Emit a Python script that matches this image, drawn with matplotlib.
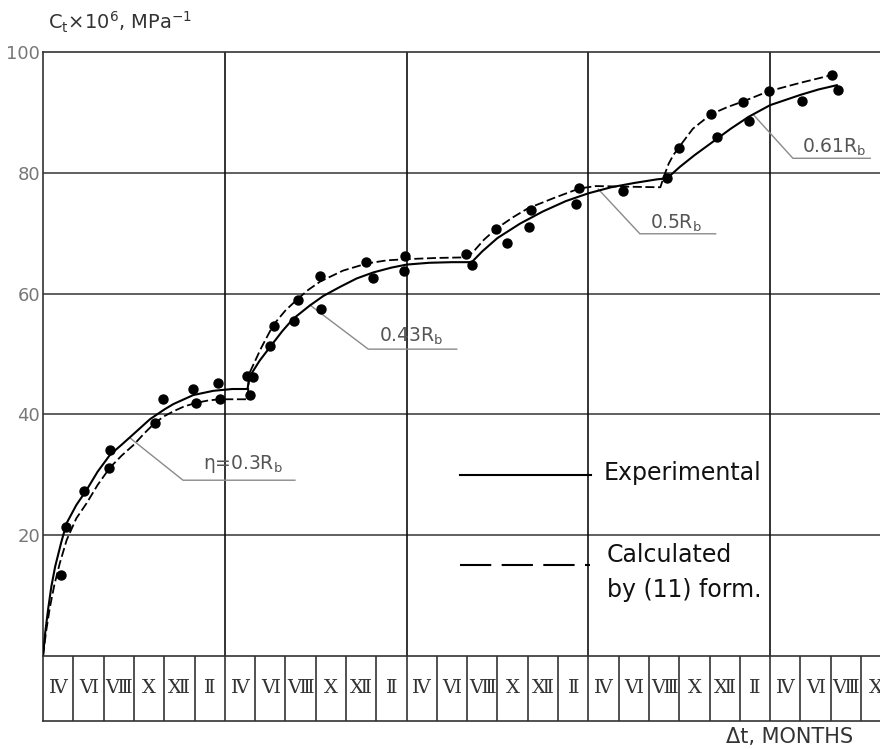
import matplotlib
matplotlib.use("Agg")
import matplotlib.pyplot as plt

# experimental curve (solid), months from start / Ct*1e6
exp_m = [0, 0.15, 0.35, 0.55, 0.8, 1.2, 1.56, 2.2, 2.88, 3.6, 4.42, 5.2, 6.0, 7.06, 8.0, 8.6,
         9.92, 11.24, 12.5, 13.5,
         13.62, 14.3, 15.0, 15.8, 16.5, 17.6, 18.5, 19.6, 20.7, 21.8, 23.0, 24.0, 25.5,
         27.0, 28.3,
         29.0, 30.0, 31.5, 33.0, 34.5, 36.0, 37.5, 39.0, 40.5, 41.2,
         42.05, 43.0, 44.2, 45.4, 46.6, 48.0, 50.0, 51.2, 52.4]
exp_v = [0, 4.0, 8.0, 11.5, 14.8, 18.8, 22.0, 25.0, 27.5, 30.5, 33.3, 35.0, 36.8, 39.2, 40.8, 41.7,
         43.2, 43.9, 44.2, 44.2,
         46.2, 48.9, 51.2, 53.8, 55.8, 58.0, 59.6, 61.1, 62.5, 63.5, 64.3, 64.8, 65.1,
         65.2, 65.2,
         67.0, 69.2, 71.6, 73.6, 75.3, 76.6, 77.6, 78.3, 78.9, 79.1,
         81.0, 82.9, 85.1, 87.3, 89.3, 91.2, 92.9, 93.8, 94.5]

# calculated by formula (11), dashed
calc_m = [0, 0.2, 0.45, 0.75, 1.1, 1.56, 2.2, 2.88, 3.6, 4.42, 5.2, 5.96, 6.7, 7.39, 8.0, 8.6,
          9.3, 10.1, 10.9, 11.66, 13.5,
          13.62, 14.4, 15.2, 16.0, 16.85, 17.5, 18.3, 19.8, 21.4, 22.7, 24.0, 26.0, 28.0,
          28.5, 29.1, 29.9, 31.0, 32.0, 33.7, 35.4, 36.5, 38.5, 40.75,
          41.0, 41.3, 41.6, 42.0, 42.9, 44.1, 45.2, 46.2, 47.9, 50.0, 52.1]
calc_v = [0, 4.0, 8.0, 11.8, 15.3, 19.2, 22.8, 25.3, 28.3, 31.2, 33.2, 34.9, 36.9, 38.6, 39.7, 40.5,
          41.3, 41.9, 42.3, 42.5, 42.5,
          46.8, 51.0, 54.8, 57.2, 59.2, 60.6, 62.0, 63.8, 65.0, 65.5, 65.7, 65.9, 66.0,
          67.2, 68.9, 70.7, 72.6, 74.1, 75.8, 77.4, 77.8, 77.7, 77.6,
          79.5, 81.5, 82.9, 84.3, 87.3, 89.7, 90.9, 91.8, 93.5, 94.9, 96.2]

# measured points
pts_m = [1.19, 1.52, 2.73, 4.45, 4.38, 7.39, 7.92, 9.88, 10.1, 11.57, 11.66, 13.47, 13.84,
         13.66, 15.0, 15.25, 16.57, 16.85, 18.35, 18.3, 21.3, 21.8, 23.9, 23.8, 27.9, 28.3,
         29.9, 30.6, 32.2, 32.1, 35.4, 35.2, 38.3, 41.2, 42.0, 44.5, 44.1, 46.6, 46.2, 47.9,
         50.1, 52.1, 52.5]
pts_v = [13.4, 21.4, 27.3, 34.1, 31.2, 38.6, 42.5, 44.2, 41.9, 45.2, 42.5, 46.4, 46.2,
         43.2, 51.3, 54.7, 55.4, 58.9, 57.5, 62.9, 65.3, 62.5, 66.3, 63.8, 66.6, 64.7,
         70.7, 68.3, 73.9, 71.0, 77.4, 74.9, 77.0, 79.1, 84.1, 85.9, 89.7, 88.6, 91.7, 93.5,
         91.9, 96.2, 93.7]

month_labels = ['Ⅳ', 'Ⅵ', 'Ⅷ', 'Ⅹ', 'Ⅻ', 'Ⅱ',
                'Ⅳ', 'Ⅵ', 'Ⅷ', 'Ⅹ', 'Ⅻ', 'Ⅱ',
                'Ⅳ', 'Ⅵ', 'Ⅷ', 'Ⅹ', 'Ⅻ', 'Ⅱ',
                'Ⅳ', 'Ⅵ', 'Ⅷ', 'Ⅹ', 'Ⅻ', 'Ⅱ',
                'Ⅳ', 'Ⅵ', 'Ⅷ', 'Ⅹ']
y_ticks = [20, 40, 60, 80, 100]
year_lines = [12, 24, 36, 48]

XMAX = 55.25
grid_col = '#333333'

fig = plt.figure(figsize=(8.8, 7.49), dpi=100)
ax = fig.add_axes([0.0489, 0.1242, 0.9511, 0.8064])
ax.set_xlim(0, XMAX)
ax.set_ylim(0, 100)

for s in ['right', 'bottom']:
    ax.spines[s].set_visible(False)
for s in ['left', 'top']:
    ax.spines[s].set_linewidth(1.2)
    ax.spines[s].set_color(grid_col)

for yv in y_ticks[:-1]:
    ax.axhline(yv, color='#444444', lw=1.2, zorder=1)
for xv in year_lines:
    ax.axvline(xv, color='#111111', lw=1.2, zorder=1)

ax.set_xticks([])
ax.set_yticks(y_ticks)
ax.set_yticklabels([str(t) for t in y_ticks], fontsize=13, color='#777777')
ax.tick_params(axis='y', length=0, pad=2)

ax.plot(exp_m, exp_v, color='black', lw=1.5, zorder=3)
ax.plot(calc_m, calc_v, color='black', lw=1.3, dashes=(5, 2), zorder=3)
ax.scatter(pts_m, pts_v, s=42, color='black', zorder=4)

# load level leaders
lead_col = '#8a8a8a'
txt_col = '#555555'
leaders = [
    ([5.74, 9.24, 16.63], [36.1, 29.1, 29.1], 10.58, 31.0, r'$\mathregular{\eta}$=0.3R$_\mathregular{b}$'),
    ([17.62, 21.47, 27.31], [58.1, 50.8, 50.8], 22.2, 52.0, r'0.43R$_\mathregular{b}$'),
    ([36.65, 39.4, 44.4], [77.3, 69.9, 69.9], 40.1, 70.8, r'0.5R$_\mathregular{b}$'),
    ([46.9, 49.5, 54.6], [89.6, 82.4, 82.4], 50.1, 83.4, r'0.61R$_\mathregular{b}$'),
]
for lx, ly, tx, ty, lab in leaders:
    ax.plot(lx, ly, color=lead_col, lw=1.0, zorder=2)
    ax.text(tx, ty, lab, fontsize=13.5, color=txt_col, ha='left', va='baseline', zorder=5)

# legend drawn inside the grid
ax.plot([27.5, 36.2], [30.0, 30.0], color='black', lw=1.5)
ax.text(37.0, 30.3, 'Experimental', fontsize=17, color='#111111', va='center', ha='left')
ax.plot([27.5, 36.1], [15.1, 15.1], color='black', lw=1.5, dashes=(15, 5))
ax.text(37.2, 16.7, 'Calculated', fontsize=17, color='#111111', va='center', ha='left')
ax.text(37.2, 10.9, 'by (11) form.', fontsize=17, color='#111111', va='center', ha='left')

# month row under the plot
ax2 = fig.add_axes([0.0489, 0.0374, 0.9511, 0.0868])
ax2.set_xlim(0, XMAX)
ax2.set_ylim(0, 1)
ax2.set_xticks([])
ax2.set_yticks([])
ax2.spines['right'].set_visible(False)
for s in ['left', 'top', 'bottom']:
    ax2.spines[s].set_linewidth(1.2)
    ax2.spines[s].set_color(grid_col)
for i, lab in enumerate(month_labels):
    if i > 0:
        ax2.axvline(2 * i, color=grid_col, lw=1.2)
    ax2.text(2 * i + 1, 0.5, lab, ha='center', va='center', fontsize=14,
             family=['DejaVu Serif', 'DejaVu Sans'], color='#333333')

fig.text(0.0545, 0.970, r'C$_\mathregular{t}$×10$^\mathregular{6}$, MPa$^\mathregular{-1}$',
         fontsize=14, color='#333333', ha='left', va='center')
fig.text(0.897, 0.016, 'Δt, MONTHS', fontsize=15, color='#333333', ha='center', va='center')

fig.savefig('out.png', dpi=100)
